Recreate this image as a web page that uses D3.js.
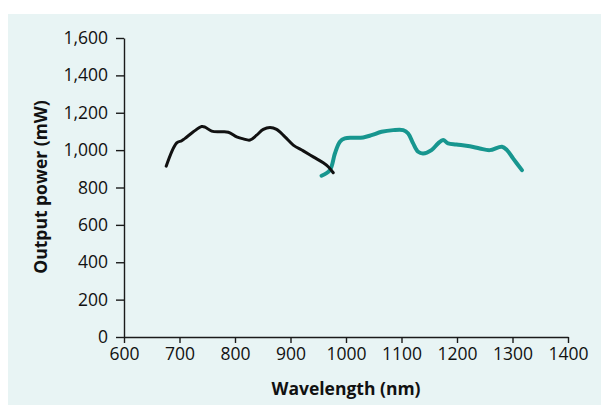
<!DOCTYPE html>
<html><head><meta charset="utf-8">
<script src="https://cdn.jsdelivr.net/npm/d3@7"></script>
<style>
html,body{margin:0;padding:0;background:#fff;}
svg{display:block;}
</style></head>
<body>
<svg id="chart" width="601" height="405"></svg>
<script>
// Data (wavelength nm, output power mW)
const seriesA_wavelength = [676, 695, 704, 710, 725, 740, 746, 758, 773, 788, 803, 815, 827, 839, 851, 863, 875, 890, 905, 923, 941, 959, 968, 977];
const seriesA_power      = [914, 1039, 1050, 1063, 1098, 1126, 1123, 1102, 1098, 1096, 1071, 1060, 1054, 1080, 1111, 1121, 1111, 1071, 1027, 996, 964, 932, 911, 879];
const seriesB_wavelength = [956, 971, 980, 989, 998, 1013, 1031, 1046, 1064, 1085, 1103, 1112, 1121, 1130, 1139, 1154, 1166, 1175, 1184, 1199, 1223, 1241, 1259, 1281, 1290, 1301, 1317];
const seriesB_power      = [863, 893, 982, 1045, 1063, 1066, 1068, 1080, 1098, 1107, 1107, 1089, 1036, 991, 982, 1000, 1036, 1054, 1036, 1030, 1021, 1009, 1000, 1018, 1000, 956, 893];
const xTicks = [600, 700, 800, 900, 1000, 1100, 1200, 1300, 1400];
const yTicks = [0, 200, 400, 600, 800, 1000, 1200, 1400, 1600];
const xTitle = "Wavelength (nm)";
const yTitle = "Output power (mW)";

const svg = d3.select("#chart");
const font = "'Open Sans', 'Noto Sans', sans-serif";

svg.append("rect").attr("x", 8).attr("y", 14).attr("width", 593).attr("height", 391).attr("fill", "#e8f4f4");

const x = d3.scaleLinear().domain([600, 1400]).range([124, 568]);
const y = d3.scaleLinear().domain([0, 1600]).range([337, 38]);

const xAxis = svg.append("g").attr("transform", "translate(0,337)")
  .call(d3.axisBottom(x).tickValues(xTicks).tickSize(6).tickSizeOuter(0).tickPadding(5).tickFormat(d3.format("d")));
const yAxis = svg.append("g").attr("transform", "translate(124,0)")
  .call(d3.axisLeft(y).tickValues(yTicks).tickSize(8).tickSizeOuter(0).tickPadding(8).tickFormat(d3.format(",")));

[xAxis, yAxis].forEach(g => {
  g.select(".domain").attr("stroke", "#1a1a1a").attr("stroke-width", 1.4);
  g.selectAll(".tick line").attr("stroke", "#1a1a1a").attr("stroke-width", 1.4);
  g.selectAll(".tick text").attr("fill", "#111").style("font-family", font).style("font-size", "17.5px");
});

svg.append("text").attr("x", 346).attr("y", 395).attr("text-anchor", "middle")
  .style("font-family", font).style("font-size", "17.5px").style("font-weight", "bold").attr("fill", "#111")
  .text(xTitle);
svg.append("text").attr("transform", "translate(47,187) rotate(-90)").attr("text-anchor", "middle")
  .style("font-family", font).style("font-size", "17.5px").style("font-weight", "bold").attr("fill", "#111")
  .text(yTitle);

const line = d3.line().x(d => x(d[0])).y(d => y(d[1])).curve(d3.curveCatmullRom.alpha(0.5));
const dataA = seriesA_wavelength.map((w, i) => [w, seriesA_power[i]]);
const dataB = seriesB_wavelength.map((w, i) => [w, seriesB_power[i]]);

svg.append("path").datum(dataB).attr("d", line).attr("fill", "none")
  .attr("stroke", "#17968f").attr("stroke-width", 4).attr("stroke-linecap", "round").attr("stroke-linejoin", "round");
svg.append("path").datum(dataA).attr("d", line).attr("fill", "none")
  .attr("stroke", "#111").attr("stroke-width", 3).attr("stroke-linecap", "round").attr("stroke-linejoin", "round");
</script>
</body></html>
